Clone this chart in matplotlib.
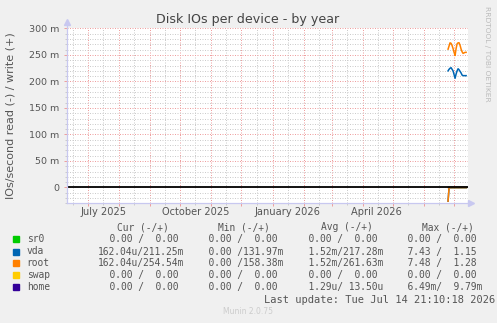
import matplotlib
matplotlib.use("Agg")
import matplotlib.pyplot as plt
import matplotlib.dates as mdates
from matplotlib.patches import Rectangle
from matplotlib.ticker import MultipleLocator, FuncFormatter
from datetime import datetime, timedelta


# --------------------------------------------------
# 1. Data (values in milli IOs/second)
# --------------------------------------------------
x_start = datetime(2025, 6, 10)
x_end = datetime(2026, 7, 14, 21, 10)
first_day = datetime(2026, 6, 25)
day_offsets = [0, 1, 2, 3, 4, 5, 6, 7, 8, 9, 10, 11, 12, 13, 14, 15, 16, 17, 18]

root_write = [261, 267, 273, 272, 268, 262, 255, 249, 262, 271,
              273, 273, 268, 261, 256, 253, 254, 255, 255]
vda_write = [220, 223, 225, 226, 223, 220, 213, 206, 214, 220,
             224, 222, 219, 216, 212, 211, 211, 211, 211]
root_read = [26, 0.5, 0.3, 0.4, 0.2, 0.3, 0.2, 0.3, 0.2, 0.2,
             0.3, 0.2, 0.2, 0.2, 0.2, 0.2, 0.2, 0.2, 0.2]
vda_read = [26, 0.5, 0.3, 0.4, 0.2, 0.3, 0.2, 0.3, 0.2, 0.2,
            0.3, 0.2, 0.2, 0.2, 0.2, 0.2, 0.2, 0.2, 0.2]
zero_series = [0] * len(day_offsets)

month_labels = ["July 2025", "October 2025", "January 2026", "April 2026"]
month_label_dates = [datetime(2025, 7, 16), datetime(2025, 10, 16),
                     datetime(2026, 1, 16), datetime(2026, 4, 15)]

names = ["sr0", "vda", "root", "swap", "home"]
colors = ["#00CC00", "#0066B3", "#FF8000", "#FFCC00", "#330099"]
cur_vals = ["  0.00 /  0.00", "162.04u/211.25m", "162.04u/254.54m",
            "  0.00 /  0.00", "  0.00 /  0.00"]
min_vals = ["  0.00 /  0.00", "  0.00 /131.97m", "  0.00 /158.38m",
            "  0.00 /  0.00", "  0.00 /  0.00"]
avg_vals = ["  0.00 /  0.00", "  1.52m/217.28m", "  1.52m/261.63m",
            "  0.00 /  0.00", "  1.29u/ 13.50u"]
max_vals = ["  0.00 /  0.00", "  7.43 /  1.15", "  7.48 /  1.28",
            "  0.00 /  0.00", "  6.49m/  9.79m"]
headers = ["Cur (-/+)", "Min (-/+)", "Avg (-/+)", "Max (-/+)"]

days = [first_day + timedelta(days=d) for d in day_offsets]

W, H = 497, 323
BG = "#F0F0F0"
AXIS = "#C8C8F0"
MONO = "DejaVu Sans Mono"


def fx(px):
    return px / W


def fy(py):
    return 1 - py / H


# --------------------------------------------------
# 2. Figure and axes
# --------------------------------------------------
fig = plt.figure(figsize=(W / 100, H / 100), dpi=100, facecolor=BG)
ax = fig.add_axes([fx(67), fy(203.3), fx(468 - 67), (203.3 - 28.5) / H])
ax.set_facecolor("white")

ax.set_xlim(x_start, x_end)
ax.set_ylim(-30, 300)

# grid
ax.xaxis.set_major_locator(mdates.MonthLocator())
ax.xaxis.set_minor_locator(mdates.MonthLocator(bymonthday=16))
ax.yaxis.set_major_locator(MultipleLocator(50))
ax.yaxis.set_minor_locator(MultipleLocator(10))
ax.yaxis.set_major_formatter(FuncFormatter(lambda v, p: "0" if v == 0 else f"{v:.0f} m"))
ax.xaxis.set_major_formatter(FuncFormatter(lambda v, p: ""))

ax.grid(which="minor", color="#CCCCCC", linestyle=(0, (1, 1.5)), linewidth=0.72)
ax.grid(which="major", color="#EE9F9F", linestyle=(0, (1, 1.5)), linewidth=0.72)
ax.set_axisbelow(True)

ax.tick_params(which="major", length=2.5, width=0.72, color="#EE9F9F",
               labelsize=6.8, labelcolor="#555555", pad=3)
ax.tick_params(which="minor", length=1.5, width=0.72, color="#CCCCCC")
ax.tick_params(axis="x", which="both", labelbottom=False)

for side in ["top", "right"]:
    ax.spines[side].set_visible(False)
for side in ["left", "bottom"]:
    ax.spines[side].set_color(AXIS)
    ax.spines[side].set_linewidth(0.9)

# axis arrows
ax.plot([0, 0], [1, 1.035], color=AXIS, lw=0.9, transform=ax.transAxes, clip_on=False)
ax.plot([0], [1.035], marker="^", ms=4, color=AXIS, transform=ax.transAxes, clip_on=False)
ax.plot([1, 1.008], [0, 0], color=AXIS, lw=0.9, transform=ax.transAxes, clip_on=False)
ax.plot([1.008], [0], marker=">", ms=4, color=AXIS, transform=ax.transAxes, clip_on=False)

# --------------------------------------------------
# 3. Series
# --------------------------------------------------
for c in [colors[0], colors[3], colors[4]]:
    ax.plot(days, zero_series, color=c, lw=1.0)
ax.plot(days, vda_write, color=colors[1], lw=1.1)
ax.plot(days, [-v for v in vda_read], color=colors[1], lw=1.1)
ax.plot(days, root_write, color=colors[2], lw=1.1)
ax.plot(days, [-v for v in root_read], color=colors[2], lw=1.1)
ax.axhline(0, color="black", lw=1.3)

for d, t in zip(month_label_dates, month_labels):
    ax.text(d, -0.048, t, transform=ax.get_xaxis_transform(), ha="center",
            va="center", fontsize=7.1, color="#555555")

# --------------------------------------------------
# 4. Texts around the plot
# --------------------------------------------------
fig.text(fx(248), fy(19.3), "Disk IOs per device - by year", ha="center",
         va="center", fontsize=9.1, color="#444444")
fig.text(fx(11), fy(116), "IOs/second read (-) / write (+)", rotation=90,
         ha="center", va="center", fontsize=8.0, color="#555555")
fig.text(fx(487), fy(53.5), "RRDTOOL / TOBI OETIKER", rotation=270,
         ha="center", va="center", fontsize=5.4, color="#BBBBBB")

# --------------------------------------------------
# 5. Legend table
# --------------------------------------------------
header_x = [116.7, 218, 321, 422]
for hx, t in zip(header_x, headers):
    fig.text(fx(hx), fy(227.3), t, ha="left", va="center", family=MONO,
             fontsize=6.9, color="#555555")

col_x = [98.3, 197.4, 296.7, 395.7]
row_y = [239.3, 251.5, 263.3, 275.2, 287.0]
for i, name in enumerate(names):
    y = row_y[i]
    fig.patches.append(Rectangle((fx(13.3), fy(y + 3)), 6 / W, 6 / H,
                                 transform=fig.transFigure, color=colors[i]))
    fig.text(fx(26.7), fy(y), name, ha="left", va="center", family=MONO,
             fontsize=6.9, color="#555555")
    for cx, vals in zip(col_x, [cur_vals, min_vals, avg_vals, max_vals]):
        fig.text(fx(cx), fy(y), vals[i], ha="left", va="center", family=MONO,
                 fontsize=6.9, color="#555555")

fig.text(fx(495), fy(300), "Last update: Tue Jul 14 21:10:18 2026", ha="right",
         va="center", family=MONO, fontsize=7.5, color="#555555")
fig.text(fx(248), fy(311.7), "Munin 2.0.75", ha="center", va="center",
         fontsize=5.5, color="#CCCCCC")

fig.savefig("out.png", dpi=100, facecolor=BG)
